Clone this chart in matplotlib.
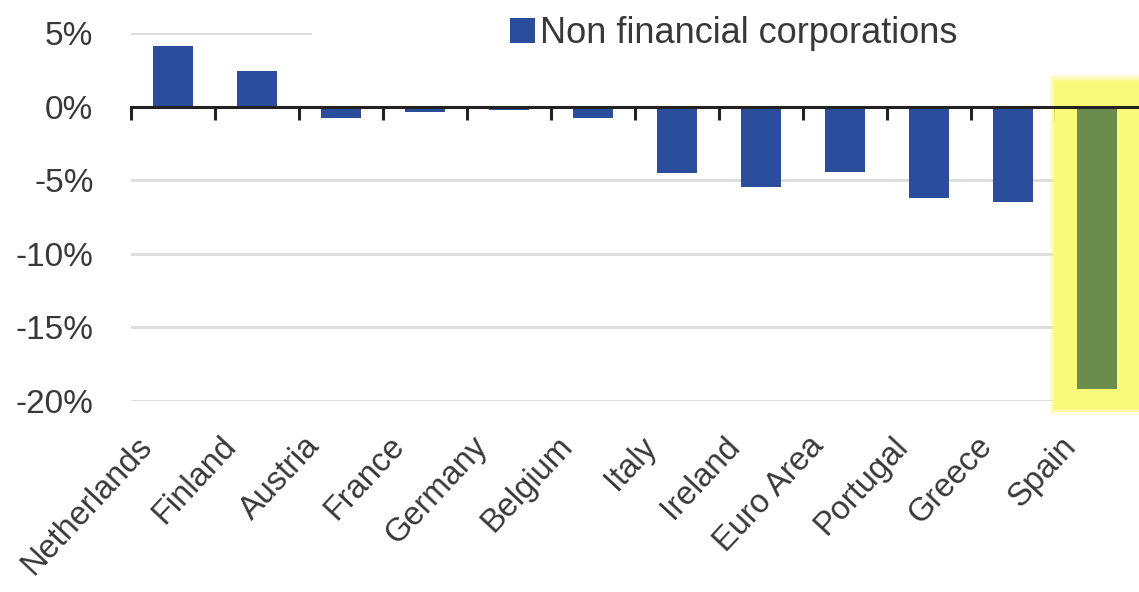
import matplotlib
matplotlib.use("Agg")
import matplotlib.pyplot as plt
from matplotlib.patches import Rectangle, Patch
from matplotlib.transforms import ScaledTranslation
import numpy as np

categories = ["Netherlands", "Finland", "Austria", "France", "Germany", "Belgium",
              "Italy", "Ireland", "Euro Area", "Portugal", "Greece", "Spain"]
values = [4.1, 2.4, -0.8, -0.4, -0.2, -0.8, -4.5, -5.45, -4.45, -6.2, -6.5, -19.2]
series_name = "Non financial corporations"
highlight = "Spain"
yticks = [5, 0, -5, -10, -15, -20]
ytick_labels = ["5%", "0%", "-5%", "-10%", "-15%", "-20%"]

BLUE = "#2b4e9c"
GREEN = "#6c8c4e"
YELLOW = "#f9f97a"
TEXT = "#383838"

plt.rcParams['font.family'] = ['Liberation Sans', 'DejaVu Sans']

fig = plt.figure(figsize=(11.39, 5.92), dpi=100)
ax = fig.add_axes([131/1139, (592-401)/592, 1 - 131/1139, (401-33)/592])

x = np.arange(len(categories))
colors = [GREEN if c == highlight else BLUE for c in categories]
ax.bar(x, values, width=0.47, color=colors, zorder=3)

ax.set_xlim(-0.5, len(categories) - 0.5)
ax.set_ylim(-20, 5)

# highlight glow
hi = categories.index(highlight)
for grow, alpha in [(0.06, 0.25), (0.035, 0.45), (0.015, 0.7), (0.0, 1.0)]:
    ax.add_patch(Rectangle((hi - 0.5 - grow, -20.5 - grow * 8), 1.1 + 2 * grow,
                           22.2 + grow * 16, facecolor=YELLOW, edgecolor='none',
                           alpha=alpha, zorder=1, clip_on=False))

# grid
ax.set_yticks(yticks)
ax.set_yticklabels(ytick_labels)
ax.yaxis.grid(True, color="#dcdcdc", linewidth=2, zorder=0)
ax.set_axisbelow(True)
# white area behind the legend hiding part of the top gridline
ax.add_patch(Rectangle((0.18, 0.955), 0.85, 0.08, transform=ax.transAxes,
                       facecolor='white', edgecolor='none', zorder=0.9, clip_on=False))

for s in ["left", "right", "bottom"]:
    ax.spines[s].set_visible(False)
ax.spines["top"].set_position(("data", 0))
ax.spines["top"].set_color("#222222")
ax.spines["top"].set_linewidth(2.2)
ax.spines["top"].set_zorder(4)

ax.set_xticks(x)
ax.set_xticklabels(categories, rotation=47, ha='right', va='center',
                   rotation_mode='anchor')
ax.set_xticks(np.arange(len(categories) + 1) - 0.5, minor=True)
ax.tick_params(axis='x', which='major', bottom=True, top=False, length=0,
               pad=29, labelsize=23.5, labelcolor=TEXT)
ax.tick_params(axis='x', which='minor', bottom=False, top=True, direction='in',
               length=9, width=2.2, color="#222222")
ax.tick_params(axis='y', length=0, pad=27, labelsize=24, labelcolor=TEXT)
off = ScaledTranslation(-26/100, 0, fig.dpi_scale_trans)
for lab in ax.get_xticklabels():
    lab.set_transform(lab.get_transform() + off)

leg = ax.legend(handles=[Patch(facecolor=BLUE, label=series_name)],
                loc='center left', bbox_to_anchor=((510-131)/1008, 0.998),
                frameon=False, fontsize=26, handlelength=0.7, handleheight=0.7,
                handletextpad=0.12, borderpad=0, borderaxespad=0)
for t in leg.get_texts():
    t.set_color(TEXT)

fig.savefig("out.png", dpi=100, facecolor='white')
